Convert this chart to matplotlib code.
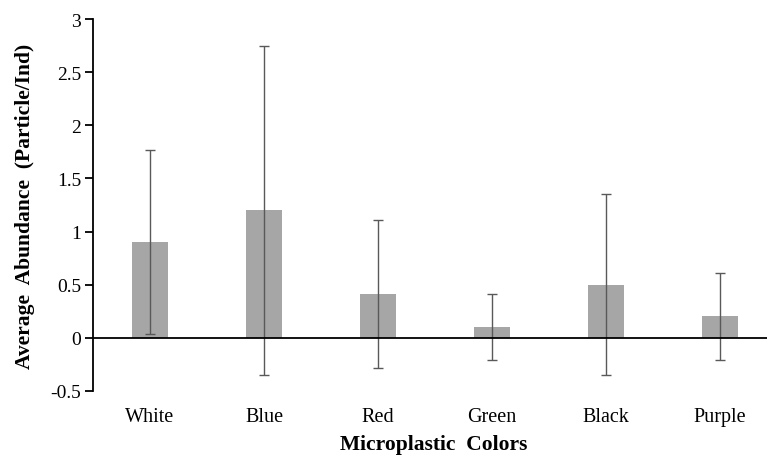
import matplotlib
matplotlib.use("Agg")
import matplotlib.pyplot as plt
import numpy as np

categories = ["White", "Blue", "Red", "Green", "Black", "Purple"]
means = [0.90, 1.20, 0.41, 0.10, 0.50, 0.20]
errors = [0.87, 1.55, 0.70, 0.31, 0.85, 0.41]
yticks = [-0.5, 0, 0.5, 1, 1.5, 2, 2.5, 3]
ytick_labels = ["-0.5", "0", "0.5", "1", "1.5", "2", "2.5", "3"]

plt.rcParams['font.family'] = ['Liberation Serif', 'DejaVu Serif']

W, H = 767, 456
fig = plt.figure(figsize=(W / 100, H / 100), dpi=100)
left, right, top, bottom = 93, 777, 20.3, 391.7
ax = fig.add_axes([left / W, 1 - bottom / H, (right - left) / W, (bottom - top) / H])

x = np.arange(len(categories))
ax.bar(x, means, width=0.31, color="#a6a6a6", zorder=2)
ax.errorbar(x, means, yerr=errors, fmt="none", ecolor="#595959", elinewidth=1.0,
            capsize=3.5, capthick=1.0, zorder=3)
ax.axhline(0, color="black", lw=1.3, zorder=4)

ax.set_xlim(-0.5, len(categories) - 0.5)
ax.set_ylim(-0.5, 3)
ax.set_yticks(yticks)
ax.set_yticklabels(ytick_labels, fontsize=14)
ax.set_xticks(x)
ax.set_xticklabels(categories, fontsize=14.5)
ax.tick_params(axis="x", length=0, pad=12)
ax.tick_params(axis="y", length=5.5, width=1.3, direction="out", pad=3)

for s in ["top", "right", "bottom"]:
    ax.spines[s].set_visible(False)
ax.spines["left"].set_linewidth(1.3)

ax.set_ylabel("Average  Abundance  (Particle/Ind)", fontsize=15.5, fontweight="bold", labelpad=11)
ax.set_xlabel("Microplastic  Colors", fontsize=15.5, fontweight="bold")
ax.xaxis.label.set_verticalalignment("top")
ax.xaxis.set_label_coords((434 - left) / (right - left), -(435 - bottom) / (bottom - top))

fig.savefig("out.png", dpi=100)
